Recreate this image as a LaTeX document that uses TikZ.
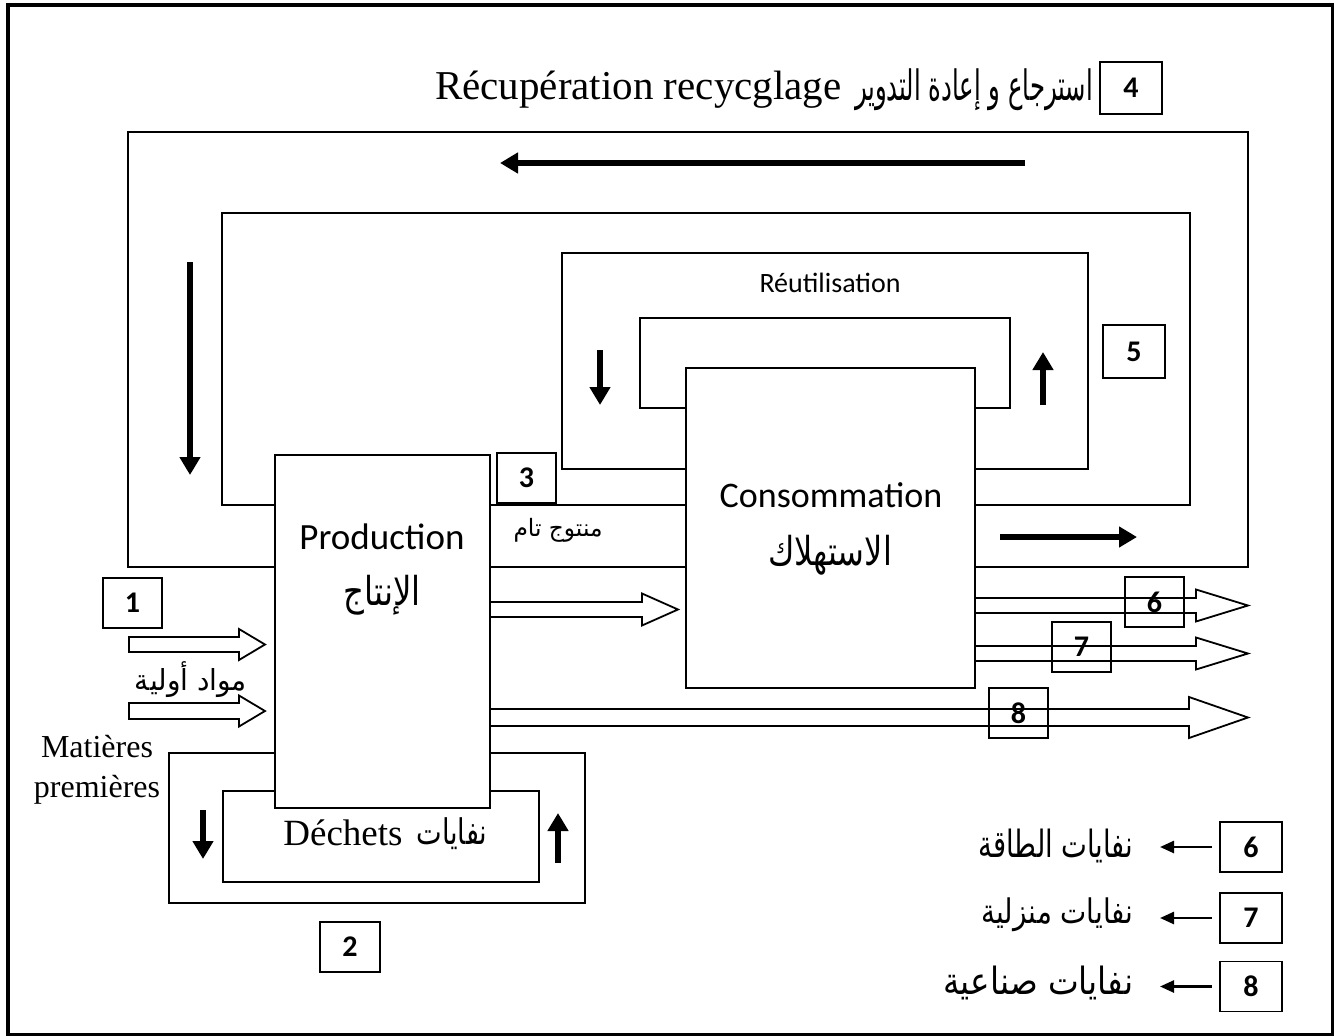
\documentclass[tikz,border=0pt]{standalone}
\usepackage{fontspec}
\usepackage{graphicx}
\setmainfont{Liberation Serif}
\newfontfamily\calib{Carlito}
\newfontfamily\arabicfont[Script=Arabic]{DejaVu Sans}
\TeXXeTstate=1
\usetikzlibrary{arrows.meta}
% Arabic text scaled to a given width and total height
\newcommand\artext[3]{\resizebox*{#1pt}{#2pt}{\arabicfont #3}}
\newcommand\fsz[1]{\fontsize{#1}{#1}\selectfont}
% hollow block arrow: tail x, head x, tip x, centre y, shaft half width, head half width
\newcommand\hollowarrow[6]{%
  \filldraw[fill=white, line width=1.8pt, line join=miter]
    (#1,#4-#5) -- (#2,#4-#5) -- (#2,#4-#6) -- (#3,#4) -- (#2,#4+#6)
    -- (#2,#4+#5) -- (#1,#4+#5) -- cycle;}
\begin{document}
\begin{tikzpicture}[x=1pt,y=-1pt,
  edge/.style={line width=1.8pt},
  block/.style={draw, line width=1.8pt, fill=white, inner sep=0pt},
  numbox/.style={draw, line width=1.8pt, minimum width=59pt, minimum height=50pt,
    inner sep=0pt, font=\calib\bfseries\fsz{30}},
  flow/.style={line width=6pt, -{Triangle[length=18pt,width=20pt]}},
  key/.style={line width=2.5pt, -{Triangle[length=14pt,width=12pt]}}]

\useasboundingbox (0,0) rectangle (1334,1036);
\draw[line width=3.5pt] (8,5) rectangle (1333,1035);

% recycling loop
\draw[edge] (128,132) rectangle (1248,567);
\draw[edge] (222,213) rectangle (1190,505);
% reuse loop
\draw[edge] (562,253) rectangle (1088,469);
\draw[edge] (640,318) rectangle (1010,408);
% waste loop
\draw[edge] (169,753) rectangle (585,903);
\draw[edge] (223,791) rectangle (539,882);

% production and consumption
\node[block, minimum width=215pt, minimum height=353pt] (prod) at (382.5,631.5) {};
\node[block, minimum width=289pt, minimum height=320pt] (cons) at (830.5,528) {};

\node[font=\calib\fsz{37}] (prodfr) at (382,537) {Production};
\node (prodar) at (382,595) {\artext{77}{40}{\beginR الإنتاج\endR}};
\node[font=\calib\fsz{36}] (consfr) at (831,495) {Consommation};
\node (consar) at (830,555) {\artext{124}{40}{\beginR الاستهلاك\endR}};

% material flows
\hollowarrow{490}{642}{678}{609.5}{7.5}{16}
\hollowarrow{975}{1196}{1248}{605.5}{7.5}{16}
\hollowarrow{975}{1196}{1248}{653.5}{7.5}{16}
\hollowarrow{490}{1189}{1248}{717.5}{8.5}{20.5}
\hollowarrow{129}{239}{265}{644.5}{7.5}{15.5}
\hollowarrow{129}{239}{265}{711}{8}{15.5}

% loop direction arrows
\coordinate (ta) at (1025,163); \coordinate (tb) at (500,163);
\coordinate (la) at (190,262);  \coordinate (lb) at (190,475);
\coordinate (ra) at (1000,537); \coordinate (rb) at (1137,537);
\coordinate (ua) at (600,350);  \coordinate (ub) at (600,405);
\coordinate (va) at (1043,405); \coordinate (vb) at (1043,352);
\coordinate (wa) at (203,810);  \coordinate (wb) at (203,859);
\coordinate (xa) at (558,863);  \coordinate (xb) at (558,813);
\draw[flow] (ta) -- (tb);
\draw[flow] (la) -- (lb);
\draw[flow] (ra) -- (rb);
\draw[flow] (ua) -- (ub);
\draw[flow] (va) -- (vb);
\draw[flow] (wa) -- (wb);
\draw[flow] (xa) -- (xb);

% texts
\node[font=\fsz{41}, anchor=east] (titlefr) at (845,90) {Récupération recycglage};
\node (titlear) at (974,90) {\artext{238}{42}{\beginR استرجاع و إعادة التدوير\endR}};
\node[font=\calib\fsz{28}] (reuse) at (830,283) {Réutilisation};
\node (fini) at (558,530) {\artext{89}{24}{\beginR منتوج تام\endR}};
\node (mpar) at (191,680) {\artext{112}{36}{\beginR مواد أولية\endR}};
\node[font=\fsz{32}] (mpfr1) at (97,747) {Matières};
\node[font=\fsz{32}] (mpfr2) at (97,790) {premières};
\node[font=\fsz{37}] (dechfr) at (343,833) {Déchets};
\node (dechar) at (452,834) {\artext{71}{32}{\beginR نفايات\endR}};

% numbered boxes
\node[numbox] (n1) at (132.5,603) {1};
\node[numbox, minimum width=60pt] (n2) at (350,947) {2};
\node[numbox] (n3) at (526.5,478) {3};
\node[numbox, minimum width=62pt, minimum height=52pt] (n4) at (1131,88) {4};
\node[numbox, minimum width=62pt, minimum height=53pt] (n5) at (1134,351.5) {5};
\node[numbox] (n6) at (1154.5,602) {6};
\node[numbox] (n7) at (1081.5,647) {7};
\node[numbox] (n8) at (1018.5,713) {8};

% key
\node[numbox, minimum width=62pt] (k6) at (1251,847) {6};
\node[numbox, minimum width=62pt] (k7) at (1251,918) {7};
\node[numbox, minimum width=62pt] (k8) at (1251,986.5) {8};
\coordinate (k6t) at (1160,847);
\coordinate (k7t) at (1160,918);
\coordinate (k8t) at (1160,986.5);
\draw[key, shorten <=7pt] (k6.west) -- (k6t);
\draw[key, shorten <=7pt] (k7.west) -- (k7t);
\draw[key, shorten <=7pt] (k8.west) -- (k8t);
\node[anchor=east] (k6x) at (1137,846) {\artext{155}{34}{\beginR نفايات الطاقة\endR}};
\node[anchor=east] (k7x) at (1137,915) {\artext{152}{34}{\beginR نفايات منزلية\endR}};
\node[anchor=east] (k8x) at (1137,983) {\artext{190}{34}{\beginR نفايات صناعية\endR}};
\end{tikzpicture}
\end{document}
